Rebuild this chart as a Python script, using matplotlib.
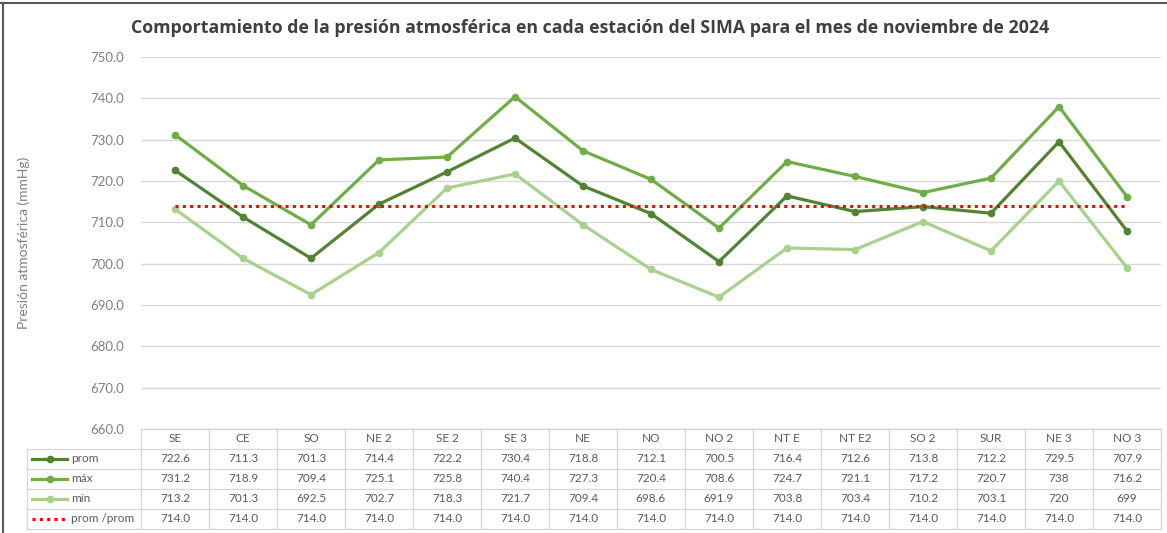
import matplotlib.pyplot as plt
import matplotlib.transforms as mtransforms
from matplotlib.lines import Line2D
import numpy as np

# Datos del grafico (mmHg)
estaciones = ["SE", "CE", "SO", "NE2", "SE2", "SE3", "NE", "NO", "NO2", "NTE", "NTE2", "SO2", "SUR", "NE3", "NO3"]
etiquetas = ["SE", "CE", "SO", "NE 2", "SE 2", "SE 3", "NE", "NO", "NO 2", "NT E", "NT E2", "SO 2", "SUR", "NE 3", "NO 3"]
prom = [722.6, 711.3, 701.3, 714.4, 722.2, 730.4, 718.8, 712.1, 700.5, 716.4, 712.6, 713.8, 712.2, 729.5, 707.9]
maxi = [731.2, 718.9, 709.4, 725.1, 725.8, 740.4, 727.3, 720.4, 708.6, 724.7, 721.1, 717.2, 720.7, 738, 716.2]
mini = [713.2, 701.3, 692.5, 702.7, 718.3, 721.7, 709.4, 698.6, 691.9, 703.8, 703.4, 710.2, 703.1, 720, 699]
prom_prom = [714.0] * 15

plt.rcParams['font.family'] = ['Lato', 'DejaVu Sans']

W, H = 1167, 533
fig = plt.figure(figsize=(W / 100, H / 100), dpi=100)
ax = fig.add_axes([141 / W, 1 - 429 / H, (1161 - 141) / W, (429 - 57) / H])

c_prom = "#548235"
c_max = "#70AD47"
c_min = "#A9D18E"
c_rojo = "#FF0000"
gris = "#808080"
texto = "#595959"
borde = "#D9D9D9"

x = np.arange(len(estaciones))
series = [
    ("prom", prom, c_prom),
    ("máx", maxi, c_max),
    ("mín", mini, c_min),
]
for nombre, vals, col in series:
    ax.plot(x, vals, color=col, lw=2.3, marker="o", ms=4.5, zorder=3)
ax.plot(x, prom_prom, color=c_rojo, lw=2.2, linestyle=(0, (1, 1.4)), zorder=4)

ax.set_xlim(-0.5, len(x) - 0.5)
ax.set_ylim(660, 750)
ax.set_yticks(np.arange(660, 751, 10))
ax.set_yticklabels([f"{v:.1f}" for v in np.arange(660, 751, 10)], color=gris, fontsize=9.5)
ax.set_xticks([])
ax.tick_params(axis="y", length=0, pad=12)
ax.grid(axis="y", color=borde, lw=1)
ax.set_axisbelow(True)
for s in ax.spines.values():
    s.set_visible(False)
ax.set_ylabel("Presión atmosférica (mmHg)", color=gris, fontsize=10)
ax.yaxis.set_label_coords(-(141 - 30) / (1161 - 141), 0.5)

fig.text(590 / W, 1 - 28 / H,
         "Comportamiento de la presión atmosférica en cada estación del SIMA para el mes de noviembre de 2024",
         ha="center", va="center", fontsize=12.8, fontweight="bold", color="#404040",
         family=["Open Sans", "DejaVu Sans"])

# Tabla de datos bajo el grafico
tr = mtransforms.blended_transform_factory(ax.transData, fig.transFigure)
def fy(py):
    return 1 - py / H
def fx(px):
    return px / W

filas_y = [429, 449, 469, 489, 509, 529]
x0, x1, xl = 141, 1161, 27
# lineas horizontales
fig.add_artist(Line2D([fx(x0), fx(x1)], [fy(429)] * 2, color=borde, lw=1))
for py in filas_y[1:]:
    fig.add_artist(Line2D([fx(xl), fx(x1)], [fy(py)] * 2, color=borde, lw=1))
# lineas verticales
for i in range(len(x) + 1):
    fig.add_artist(Line2D([i - 0.5, i - 0.5], [fy(429), fy(529)], color=borde, lw=1, transform=tr))
fig.add_artist(Line2D([fx(xl), fx(xl)], [fy(449), fy(529)], color=borde, lw=1))

for i, lab in enumerate(etiquetas):
    fig.text(i, fy(439), lab, transform=tr, ha="center", va="center", fontsize=8.5, color=texto)

filas = [
    ("prom", [str(v) for v in prom], c_prom, "-"),
    ("máx", [str(v) for v in maxi], c_max, "-"),
    ("mín", [str(v) for v in mini], c_min, "-"),
    ("prom /prom", [f"{v:.1f}" for v in prom_prom], c_rojo, ":"),
]
for r, (nombre, vals, col, ls) in enumerate(filas):
    cy = fy((filas_y[r + 1] + filas_y[r + 2]) / 2)
    for i, v in enumerate(vals):
        fig.text(i, cy, v, transform=tr, ha="center", va="center", fontsize=8.5, color=texto)
    if ls == "-":
        fig.add_artist(Line2D([fx(32), fx(67)], [cy, cy], color=col, lw=2.3))
        fig.add_artist(Line2D([fx(49.5)], [cy], color=col, marker="o", ms=4.5, lw=0))
    else:
        fig.add_artist(Line2D([fx(32), fx(66)], [cy, cy], color=col, lw=2.2, linestyle=(0, (1, 1.4))))
    fig.text(fx(71), cy, nombre, ha="left", va="center", fontsize=8.5, color=texto)

# marco exterior (superior e izquierdo)
fig.add_artist(Line2D([0, 1], [fy(3), fy(3)], color="#595959", lw=1.5))
fig.add_artist(Line2D([fx(3), fx(3)], [0, fy(3)], color="#595959", lw=1.5))

fig.savefig("out.png", dpi=100, facecolor="white")
